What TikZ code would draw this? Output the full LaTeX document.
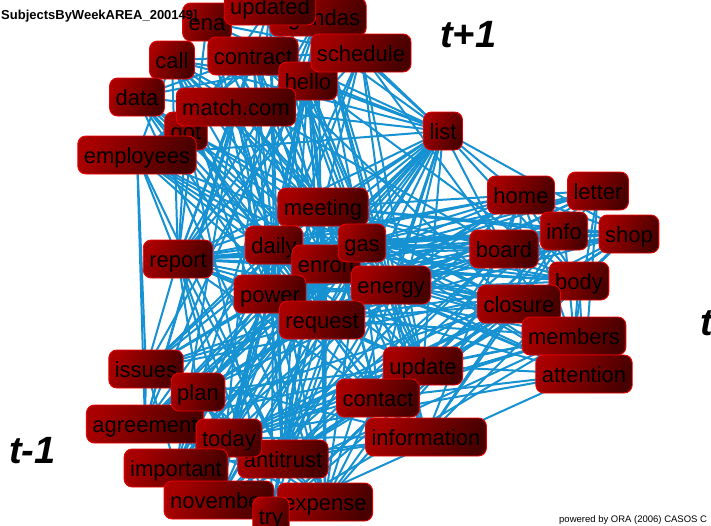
\documentclass[tikz,border=0pt]{standalone}
\usepackage{fontspec}
\setmainfont{Liberation Sans}
\pgfdeclarelayer{bg}
\pgfsetlayers{bg,main}
\definecolor{edgeblue}{RGB}{22,145,210}
\definecolor{boxlight}{RGB}{168,0,0}
\definecolor{boxdark}{RGB}{72,0,0}
\definecolor{boxline}{RGB}{235,0,0}
\tikzset{
  word/.style={rectangle, rounded corners=8pt, draw=boxline, line width=0.9pt,
    left color=boxlight, right color=boxdark, shading angle=65, text=black,
    font=\fontsize{22}{24}\selectfont, inner xsep=6pt, inner ysep=7pt,
    text height=20pt, text depth=4pt},
  link/.style={draw=edgeblue, line width=2pt},
  big/.style={font=\fontsize{38}{40}\selectfont\bfseries\itshape, inner sep=0pt, anchor=base west}
}
\def\wordlist{ena/0,updated/0,agendas/0,call/0,contract/0,schedule/0,hello/0,data/0,matchcom/0,got/0,employees/0,list/4,home/2,letter/2,info/2,shop/2,board/2,body/2,closure/2,members/2,attention/2,meeting/1,daily/1,gas/1,report/1,enron/1,energy/1,power/1,request/1,issues/3,plan/3,agreement/3,today/3,important/3,antitrust/3,november/3,try/3,expense/3,update/3,contact/3,information/3}
\begin{document}
\begin{tikzpicture}[x=1pt,y=-1pt]
\useasboundingbox (0,0) rectangle (711,525);
\clip (0,0) rectangle (711,525);
% top group
\node[word] (ena) at (207,22) {ena};
\node[word] (agendas) at (318,17) {agendas};
\node[word] (updated) at (270,6) {updated};
\node[word] (call) at (172,60) {call};
\node[word] (contract) at (253,56) {contract};
\node[word] (hello) at (308,81) {hello};
\node[word] (schedule) at (361,53) {schedule};
\node[word] (data) at (137,97) {data};
\node[word] (got) at (186,131) {got};
\node[word] (matchcom) at (236,107) {match.com};
\node[word] (employees) at (137,155) {employees};
\node[word] (list) at (443,131) {list};
% right group
\node[word] (home) at (521,195) {home};
\node[word] (letter) at (598,191) {letter};
\node[word] (info) at (564,231) {info};
\node[word] (shop) at (629,234) {shop};
\node[word] (board) at (504,249) {board};
\node[word] (body) at (579,281) {body};
\node[word] (closure) at (519,304) {closure};
\node[word] (members) at (574,336) {members};
\node[word] (attention) at (584,374) {attention};
% center group
\node[word] (meeting) at (323,207) {meeting};
\node[word] (daily) at (274,245) {daily};
\node[word] (enron) at (326,264) {enron};
\node[word] (gas) at (362,243) {gas};
\node[word] (energy) at (391,285) {energy};
\node[word] (power) at (270,294) {power};
\node[word] (request) at (322,320) {request};
\node[word] (report) at (178,259) {report};
% bottom group
\node[word] (issues) at (146,369) {issues};
\node[word] (agreement) at (145,424) {agreement};
\node[word] (plan) at (198,392) {plan};
\node[word] (antitrust) at (283,459) {antitrust};
\node[word] (today) at (229,438) {today};
\node[word] (important) at (176,468) {important};
\node[word] (november) at (219,500) {november};
\node[word] (expense) at (325,502) {expense};
\node[word] (try) at (271,516) {try};
\node[word] (update) at (423,366) {update};
\node[word] (contact) at (378,398) {contact};
\node[word] (information) at (426,437) {information};
% connectors
\pgfmathsetseed{7}
\begin{pgfonlayer}{bg}
\foreach \a/\ga [count=\ii] in \wordlist {
  \foreach \b/\gb [count=\jj] in \wordlist {
    \ifnum\jj>\ii
      \pgfmathsetmacro\pv{{0.55,0.7,0.08,0.2,0.7,0.7,0.85,0.6,0.75,0.8,0.08,0.6,0.6,0.35,0.6,0.2,0.75,0.35,0.5,0.5,0.7,0.8,0.6,0.5,0}[5*\ga+\gb]}
      \pgfmathsetmacro\rv{rnd}
      \ifdim\rv pt<\pv pt
        \draw[link] (\a.center) -- (\b.center);
      \fi
    \fi
  }
}
\end{pgfonlayer}
% texts
\node[font=\fontsize{13}{14}\selectfont\bfseries, anchor=base west, inner sep=0pt] (title) at (1,19) {SubjectsByWeekAREA\_200149]};
\node[big] (tplus) at (440,47) {t+1};
\node[big] (tminus) at (9,463) {t-1};
\node[big] (tright) at (700,335) {t};
\node[font=\fontsize{9.5}{10}\selectfont, anchor=base west, inner sep=0pt] (credit) at (559,522) {powered by ORA (2006) CASOS C};
\end{tikzpicture}
\end{document}
